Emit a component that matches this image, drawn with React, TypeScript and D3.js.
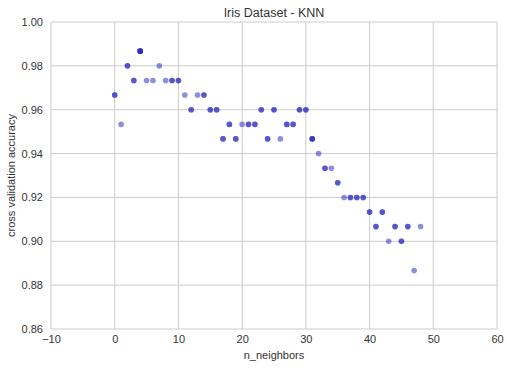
// Iris KNN — точечный график точности кросс-валидации
import React, { useEffect, useRef } from 'react';
import * as d3 from 'd3';

const nNeighbors = d3.range(0, 49);
// точность (кратна 1/150)
const accuracy = [
  0.9667, 0.9533, 0.98, 0.9733, 0.9867, 0.9733, 0.9733, 0.98, 0.9733, 0.9733,
  0.9733, 0.9667, 0.96, 0.9667, 0.9667, 0.96, 0.96, 0.9467, 0.9533, 0.9467,
  0.9533, 0.9533, 0.9533, 0.96, 0.9467, 0.96, 0.9467, 0.9533, 0.9533, 0.96,
  0.96, 0.9467, 0.94, 0.9333, 0.9333, 0.9267, 0.92, 0.92, 0.92, 0.92,
  0.9133, 0.9067, 0.9133, 0.90, 0.9067, 0.90, 0.9067, 0.8867, 0.9067,
];
// сколько раз точка нарисована поверх себя (насыщенность цвета)
const repeats = [
  2, 1, 2, 2, 4, 1, 1, 1, 1, 2,
  2, 1, 2, 1, 2, 2, 2, 2, 2, 2,
  1, 2, 2, 2, 2, 2, 1, 2, 2, 2,
  2, 3, 1, 2, 1, 2, 1, 2, 2, 2,
  2, 2, 2, 1, 2, 2, 2, 1, 1,
];
const xTicks = [-10, 0, 10, 20, 30, 40, 50, 60];
const yTicks = [0.86, 0.88, 0.9, 0.92, 0.94, 0.96, 0.98, 1.0];

const W = 509;
const H = 368;
const FONT = '"Liberation Sans", Arial, sans-serif';

const App: React.FC = () => {
  const svgRef = useRef<SVGSVGElement>(null);

  useEffect(() => {
    if (!svgRef.current) return;
    const svg = d3.select(svgRef.current);
    svg.selectAll('*').remove();

    const margin = { top: 22, right: 12, bottom: 39, left: 51 };
    const innerW = W - margin.left - margin.right;
    const innerH = H - margin.top - margin.bottom;

    const g = svg.append('g').attr('transform', `translate(${margin.left},${margin.top})`);

    const x = d3.scaleLinear().domain([-10, 60]).range([0, innerW]);
    const y = d3.scaleLinear().domain([0.86, 1.0]).range([innerH, 0]);

    // Сетка
    g.append('g')
      .selectAll('line')
      .data(xTicks)
      .enter()
      .append('line')
      .attr('x1', (d) => x(d))
      .attr('x2', (d) => x(d))
      .attr('y1', 0)
      .attr('y2', innerH)
      .attr('stroke', '#cccccc')
      .attr('stroke-width', 1);

    g.append('g')
      .selectAll('line')
      .data(yTicks)
      .enter()
      .append('line')
      .attr('x1', 0)
      .attr('x2', innerW)
      .attr('y1', (d) => y(d))
      .attr('y2', (d) => y(d))
      .attr('stroke', '#cccccc')
      .attr('stroke-width', 1);

    // Оси — подписи
    const xAxis = d3.axisBottom(x).tickValues(xTicks).tickSize(0).tickPadding(6)
      .tickFormat((d) => {
        const v = d as number;
        return v < 0 ? `\u2212${Math.abs(v)}` : `${v}`;
      });
    const xg = g.append('g').attr('transform', `translate(0,${innerH})`).call(xAxis);
    xg.select('.domain').remove();
    xg.selectAll('text').attr('font-family', FONT).attr('font-size', 11).attr('fill', '#333');

    const yAxis = d3.axisLeft(y).tickValues(yTicks).tickSize(0).tickPadding(8)
      .tickFormat((d) => (d as number).toFixed(2));
    const yg = g.append('g').call(yAxis);
    yg.select('.domain').remove();
    yg.selectAll('text').attr('font-family', FONT).attr('font-size', 11).attr('fill', '#333');

    // Точки
    const data = nNeighbors.map((n, i) => ({ n, acc: accuracy[i], rep: repeats[i] }));
    const layers = data.flatMap((d) => d3.range(d.rep).map(() => d));
    g.append('g')
      .selectAll('circle')
      .data(layers)
      .enter()
      .append('circle')
      .attr('cx', (d) => x(d.n))
      .attr('cy', (d) => y(d.acc))
      .attr('r', 2.8)
      .attr('fill', 'rgb(30,30,190)')
      .attr('fill-opacity', 0.5);

    // Заголовки
    svg.append('text')
      .attr('x', margin.left + innerW / 2)
      .attr('y', 17)
      .attr('text-anchor', 'middle')
      .attr('font-family', FONT)
      .attr('font-size', 12.5)
      .attr('fill', '#333')
      .text('Iris Dataset - KNN');

    svg.append('text')
      .attr('x', margin.left + innerW / 2)
      .attr('y', 359)
      .attr('text-anchor', 'middle')
      .attr('font-family', FONT)
      .attr('font-size', 11)
      .attr('fill', '#333')
      .text('n_neighbors');

    svg.append('text')
      .attr('transform', `translate(15,${margin.top + innerH / 2}) rotate(-90)`)
      .attr('text-anchor', 'middle')
      .attr('font-family', FONT)
      .attr('font-size', 11)
      .attr('fill', '#333')
      .text('cross validation accuracy');
  }, []);

  return (
    <svg
      ref={svgRef}
      width={W}
      height={H}
      style={{ position: 'absolute', left: 0, top: 0, background: '#fff' }}
    />
  );
};

export default App;
